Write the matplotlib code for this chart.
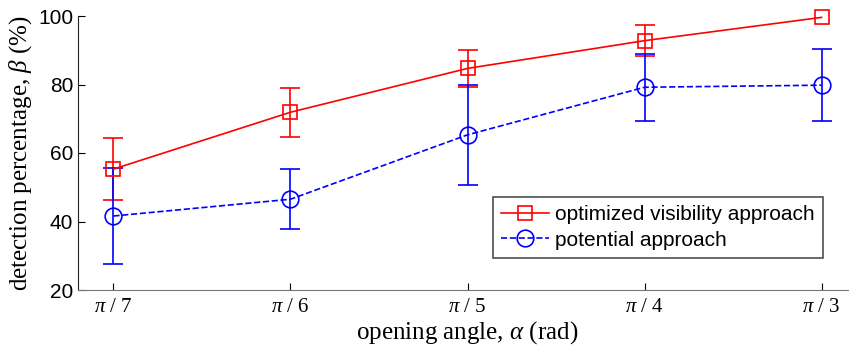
import numpy as np
import matplotlib
matplotlib.use("Agg")
import matplotlib.pyplot as plt

# ── data ──────────────────────────────────────────────────────────────────────
angles = [r"$\pi$ / 7", r"$\pi$ / 6", r"$\pi$ / 5", r"$\pi$ / 4", r"$\pi$ / 3"]
vis_mean = [55.3, 71.9, 84.7, 92.8, 99.6]
vis_err = [9.0, 7.2, 5.3, 4.6, 0.0]
pot_mean = [41.6, 46.5, 65.3, 79.2, 79.8]
pot_err = [14.0, 8.7, 14.7, 9.8, 10.5]

plt.rcParams["mathtext.fontset"] = "custom"
plt.rcParams["mathtext.rm"] = "Liberation Serif"
plt.rcParams["mathtext.it"] = "Liberation Serif:italic"

fig = plt.figure(figsize=(8.49, 3.52), dpi=100)
ax = fig.add_axes([78 / 849, 62 / 352, (857 - 78) / 849, 274 / 352])

x = np.arange(1, len(angles) + 1)
c1 = ax.errorbar(x, vis_mean, yerr=vis_err, color="#ff0000", lw=1.2, marker="s",
                 ms=10, mfc="none", mec="#ff0000", mew=1.2, capsize=7, capthick=1.2,
                 errorevery=[e > 0 for e in vis_err])
c2 = ax.errorbar(x, pot_mean, yerr=pot_err, color="#0000ff", lw=1.2, ls="--",
                 marker="o", ms=12, mfc="none", mec="#0000ff", mew=1.2, capsize=7,
                 capthick=1.2)
c1[0].set_clip_on(False)

ax.set_xlim(0.8, 5.2)
ax.set_ylim(20, 100)
ax.set_xticks(x)
ax.set_xticklabels(angles, fontsize=15, family="Liberation Serif")
ax.set_yticks([20, 40, 60, 80, 100])
ax.tick_params(axis="y", labelsize=15, direction="in", length=5)
ax.tick_params(axis="x", direction="in", length=5, pad=6)
for lab in ax.get_yticklabels():
    lab.set_family("Liberation Sans")

ax.spines["top"].set_visible(False)
ax.spines["right"].set_visible(False)
ax.spines["bottom"].set_color("#777777")
ax.spines["left"].set_color("#222222")

ax.set_xlabel(r"opening angle, $\alpha$ (rad)", fontsize=18,
              family="Liberation Serif", labelpad=1)
ax.set_ylabel(r"detection percentage, $\beta$ (%)", fontsize=18,
              family="Liberation Serif", labelpad=3)

leg = ax.legend([c1[0], c2[0]], ["optimized visibility approach", "potential approach"],
                loc="lower right", bbox_to_anchor=(823 / 849, 94 / 352),
                bbox_transform=fig.transFigure,
                prop={"family": "Liberation Sans", "size": 15},
                frameon=True, fancybox=False, edgecolor="#222222",
                borderpad=0.4, handlelength=2.3, labelspacing=0.3,
                handletextpad=0.3, borderaxespad=0)
leg.get_frame().set_linewidth(1.2)

fig.savefig("out.png", dpi=100)
